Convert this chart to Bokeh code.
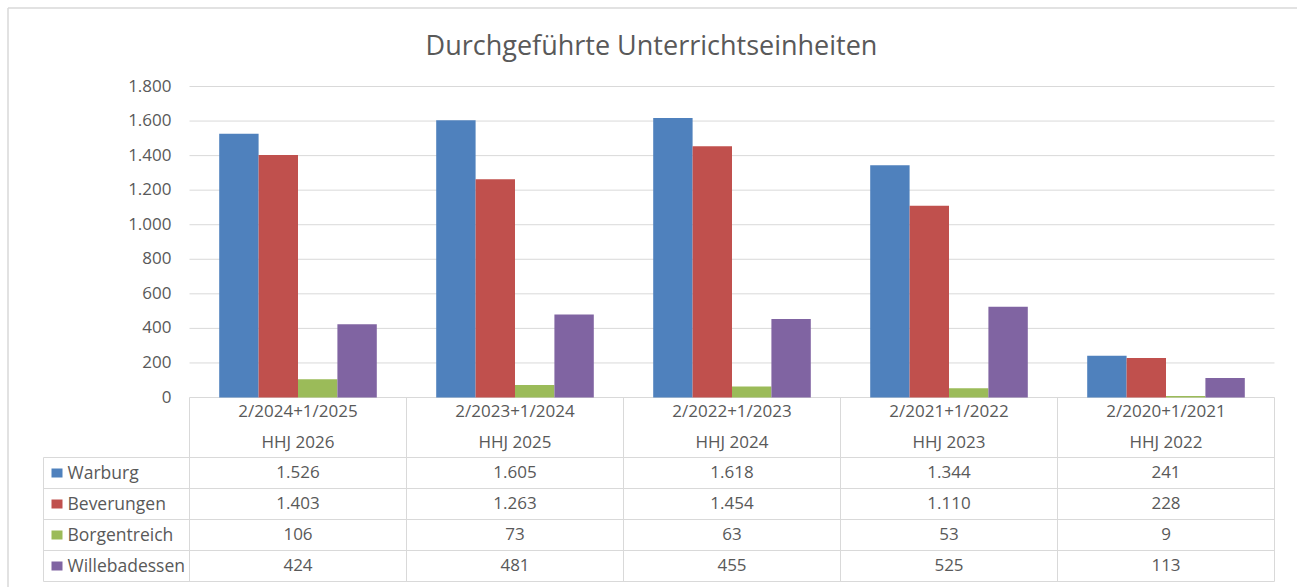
from bokeh.plotting import figure
from bokeh.models import Range1d
from bokeh.core.properties import value
from bokeh.embed import file_html
from bokeh.resources import INLINE

# ---------------- data ----------------
title_text = "Durchgeführte Unterrichtseinheiten"
cat_line1 = ["2/2024+1/2025", "2/2023+1/2024", "2/2022+1/2023", "2/2021+1/2022", "2/2020+1/2021"]
cat_line2 = ["HHJ 2026", "HHJ 2025", "HHJ 2024", "HHJ 2023", "HHJ 2022"]
series_names = ["Warburg", "Beverungen", "Borgentreich", "Willebadessen"]
warburg = [1526, 1605, 1618, 1344, 241]
beverungen = [1403, 1263, 1454, 1110, 228]
borgentreich = [106, 73, 63, 53, 9]
willebadessen = [424, 481, 455, 525, 113]
y_ticks = [0, 200, 400, 600, 800, 1000, 1200, 1400, 1600, 1800]
colors = ["#4F81BD", "#C0504D", "#9BBB59", "#8064A2"]

series = [warburg, beverungen, borgentreich, willebadessen]


def de(v):
    return f"{v:,}".replace(",", ".")


# ---------------- layout (pixel geometry) ----------------
W, H = 1297, 587
X0 = 189.0          # left edge of plot area (px)
CAT_PX = 217.0      # width of one category
Y0 = 397.0          # y of value 0 (px)
PX_PER_UNIT = 311.0 / 1800.0

FONT = value("Open Sans")
TXT = "#595959"
LINE = "#d9d9d9"


def dx(X):
    return (X - X0) / CAT_PX


def dy(Y):
    return (Y0 - Y) / PX_PER_UNIT


p = figure(width=W, height=H,
           x_range=Range1d(dx(0), dx(W)),
           y_range=Range1d(dy(H), dy(0)),
           x_axis_type=None, y_axis_type=None,
           toolbar_location=None, output_backend="svg",
           min_border=0, outline_line_color=None,
           background_fill_color="white", border_fill_color="white")

ncat = len(cat_line1)

# chart border (top + left)
p.segment(x0=[dx(7.5), dx(7.5)], y0=[dy(7.5), dy(7.5)],
          x1=[dx(W), dx(7.5)], y1=[dy(7.5), dy(H)],
          line_color=LINE, line_width=1.5)

# gridlines
p.segment(x0=[0] * len(y_ticks), y0=y_ticks, x1=[ncat] * len(y_ticks), y1=y_ticks,
          line_color=LINE, line_width=1)

# y tick labels
p.text(x=[dx(171)] * len(y_ticks), y=y_ticks, text=[de(t) for t in y_ticks],
       y_offset=-1,
       text_font=FONT, text_font_size="17px", text_color=TXT,
       text_align="right", text_baseline="middle")

# bars
bw = 39.4 / CAT_PX
for j, (vals, col) in enumerate(zip(series, colors)):
    xs = [i + 0.5 + (j - 1.5) * bw for i in range(ncat)]
    p.vbar(x=xs, top=vals, bottom=0, width=bw, fill_color=col, line_color=None)

# title
p.text(x=[dx(651)], y=[dy(44)], text=[title_text], text_font=FONT,
       text_font_size="27px", text_color=TXT, text_align="center",
       text_baseline="middle")

# ---------------- data table ----------------
TBL_LEFT = 43.0
HDR_BOT = 457.0
ROW_H = 31.0
rows_y = [HDR_BOT + ROW_H * k for k in range(len(series) + 1)]
TBL_BOT = rows_y[-1]

# vertical lines of category columns (from axis down)
p.segment(x0=list(range(ncat + 1)), y0=[dy(Y0)] * (ncat + 1),
          x1=list(range(ncat + 1)), y1=[dy(TBL_BOT)] * (ncat + 1),
          line_color=LINE, line_width=1)
# left border of legend column
p.segment(x0=[dx(TBL_LEFT)], y0=[dy(HDR_BOT)], x1=[dx(TBL_LEFT)], y1=[dy(TBL_BOT)],
          line_color=LINE, line_width=1)
# horizontal row lines
p.segment(x0=[dx(TBL_LEFT)] * len(rows_y), y0=[dy(r) for r in rows_y],
          x1=[ncat] * len(rows_y), y1=[dy(r) for r in rows_y],
          line_color=LINE, line_width=1)

# category header labels
cx = [i + 0.5 for i in range(ncat)]
p.text(x=cx, y=[dy(410)] * ncat, text=cat_line1, text_font=FONT,
       text_font_size="17px", text_color=TXT, text_align="center",
       text_baseline="middle")
p.text(x=cx, y=[dy(441)] * ncat, text=cat_line2, text_font=FONT,
       text_font_size="17px", text_color=TXT, text_align="center",
       text_baseline="middle")

for k, (name, vals, col) in enumerate(zip(series_names, series, colors)):
    center = rows_y[k] + ROW_H / 2
    tc = center - 1.5
    p.rect(x=[dx(56.5)], y=[dy(center)], width=11, height=9,
           width_units="screen", height_units="screen",
           fill_color=col, line_color=None)
    p.text(x=[dx(67)], y=[dy(tc)], text=[name], text_font=FONT,
           text_font_size="17.5px", text_color=TXT, text_align="left",
           text_baseline="middle")
    p.text(x=cx, y=[dy(tc)] * ncat, text=[de(v) for v in vals], text_font=FONT,
           text_font_size="17px", text_color=TXT, text_align="center",
           text_baseline="middle")

open("out.html", "w").write(file_html(p, INLINE))
